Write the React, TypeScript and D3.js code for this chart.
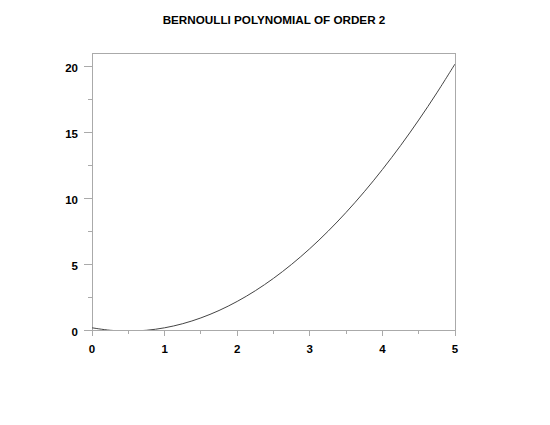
import React from "react";
import * as d3 from "d3";

const title = "BERNOULLI POLYNOMIAL OF ORDER 2";
const xs = [0, 0.25, 0.5, 0.75, 1, 1.25, 1.5, 1.75, 2, 2.25, 2.5, 2.75, 3, 3.25, 3.5, 3.75, 4, 4.25, 4.5, 4.75, 5];
const ys = [0.167, -0.021, -0.083, -0.021, 0.167, 0.479, 0.917, 1.479, 2.167, 2.979, 3.917, 4.979, 6.167, 7.479, 8.917, 10.479, 12.167, 13.979, 15.917, 17.979, 20.167];
const xMajor = [0, 1, 2, 3, 4, 5];
const xMinor = [0.5, 1.5, 2.5, 3.5, 4.5];
const yMajor = [0, 5, 10, 15, 20];
const yMinor = [2.5, 7.5, 12.5, 17.5];

export default function App() {
  const left = 92, right = 455, top = 53, bottom = 330;
  const x = d3.scaleLinear().domain([0, 5]).range([left, right]);
  const y = d3.scaleLinear().domain([0, 21]).range([bottom, top]);
  const line = d3
    .line<number>()
    .x((_, i) => x(xs[i]))
    .y((d) => y(d))
    .curve(d3.curveCatmullRom);
  const axisColor = "#aaaaaa";
  const font = "'Liberation Sans', Arial, Helvetica, sans-serif";
  return (
    <svg
      width={550}
      height={425}
      style={{ position: "absolute", left: 0, top: 0, background: "#fff" }}
    >
      <defs>
        <clipPath id="plot">
          <rect x={left} y={top} width={right - left} height={bottom - top} />
        </clipPath>
      </defs>
      <text
        x={274}
        y={24}
        textAnchor="middle"
        fontFamily={font}
        fontWeight="bold"
        fontSize={11.7}
        fill="#000"
      >
        {title}
      </text>
      <rect
        x={left}
        y={top}
        width={right - left}
        height={bottom - top}
        fill="none"
        stroke={axisColor}
        strokeWidth={1}
        shapeRendering="crispEdges"
      />
      {yMajor.map((v) => (
        <g key={"ym" + v}>
          <line x1={left - 8} x2={left} y1={y(v)} y2={y(v)} stroke={axisColor} shapeRendering="crispEdges" />
          <text
            x={left - 14}
            y={y(v) + 5.5}
            textAnchor="end"
            fontFamily={font}
            fontWeight="bold"
            fontSize={11.5}
            fill="#000"
          >
            {v}
          </text>
        </g>
      ))}
      {yMinor.map((v) => (
        <line key={"yn" + v} x1={left - 4} x2={left} y1={y(v)} y2={y(v)} stroke={axisColor} shapeRendering="crispEdges" />
      ))}
      {xMajor.map((v) => (
        <g key={"xm" + v}>
          <line x1={x(v)} x2={x(v)} y1={bottom} y2={bottom + 6} stroke={axisColor} shapeRendering="crispEdges" />
          <text
            x={x(v)}
            y={bottom + 23}
            textAnchor="middle"
            fontFamily={font}
            fontWeight="bold"
            fontSize={11.5}
            fill="#000"
          >
            {v}
          </text>
        </g>
      ))}
      {xMinor.map((v) => (
        <line key={"xn" + v} x1={x(v)} x2={x(v)} y1={bottom} y2={bottom + 4} stroke={axisColor} shapeRendering="crispEdges" />
      ))}
      <path
        d={line(ys) || ""}
        fill="none"
        stroke="#444"
        strokeWidth={1}
        clipPath="url(#plot)"
      />
    </svg>
  );
}
